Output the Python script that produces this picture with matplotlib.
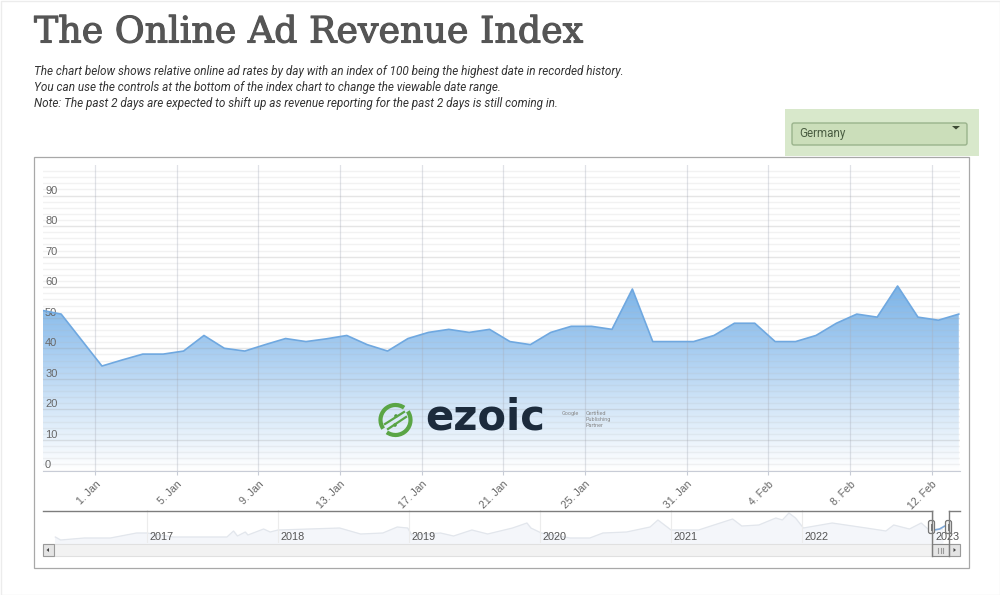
"""
Online ad revenue index for Germany, with the date range navigator below it.
All page furniture is placed in pixels of the 1000x595 figure.
"""

import matplotlib
matplotlib.use("Agg")
import matplotlib.patheffects as pe
import matplotlib.pyplot as plt
from matplotlib.colors import LinearSegmentedColormap
from matplotlib.patches import Arc, Circle, Polygon, Rectangle, FancyBboxPatch
import numpy as np

W, H = 1000, 595

# index values, first three points are the end of December
points = np.arange(-3, 43)
index_values = [52.5, 51.2, 42.7, 34.2, 36.2, 38.1, 38.1, 39.1, 44.2, 40.0, 39.1, 41.2,
                43.2, 42.2, 43.1, 44.2, 41.2, 39.1, 43.2, 45.2, 46.2, 45.2, 46.2, 42.2,
                41.2, 45.2, 47.2, 47.2, 46.2, 59.4, 42.2, 42.2, 42.2, 44.2, 48.2, 48.2,
                42.2, 42.2, 44.2, 48.2, 51.2, 50.2, 60.4, 50.2, 49.2, 51.2]
date_ticks = {"1. Jan": 0, "5. Jan": 4, "9. Jan": 8, "13. Jan": 12, "17. Jan": 16,
              "21. Jan": 20, "25. Jan": 24, "31. Jan": 29, "4. Feb": 33, "8. Feb": 37,
              "12. Feb": 41}

# navigator overview: year position and height above the scrollbar
nav_years = [2016.30, 2016.34, 2016.52, 2016.72, 2016.92, 2017.0, 2017.2, 2017.61, 2017.66,
             2017.69, 2017.75, 2017.77, 2017.89, 2017.94, 2018.0, 2018.47, 2018.63, 2018.8,
             2018.91, 2018.99, 2019.02, 2019.24, 2019.34, 2019.48, 2019.6, 2019.79, 2019.9,
             2019.93, 2020.01, 2020.23, 2020.38, 2020.48, 2020.66, 2020.84, 2020.9, 2021.0,
             2021.21, 2021.47, 2021.54, 2021.67, 2021.8, 2021.85, 2021.9, 2021.95, 2022.01,
             2022.23, 2022.49, 2022.64, 2022.7, 2022.82, 2022.91, 2022.97, 2023.07]
nav_values = [6, 3, 5, 5, 10, 10, 6, 6, 12, 7, 11, 8, 14, 11, 13, 15, 9, 10, 16, 15, 8, 10,
              7, 13, 9, 15, 20, 15, 10, 5, 5, 10, 11, 16, 23, 13, 13, 24, 17, 18, 25, 23,
              30, 25, 15, 20, 15, 12, 18, 14, 20, 13, 14]
year_labels = [2017, 2018, 2019, 2020, 2021, 2022, 2023]


def ax_px(fig, left, top, right, bottom):
    return fig.add_axes([left / W, 1 - bottom / H, (right - left) / W, (bottom - top) / H])


def main():
    plt.rcParams["font.family"] = ["Roboto", "DejaVu Sans"]
    fig = plt.figure(figsize=(W / 100, H / 100), dpi=100, facecolor="white")

    # page layer in pixel coordinates
    page = fig.add_axes([0, 0, 1, 1], zorder=0)
    page.set_xlim(0, W)
    page.set_ylim(H, 0)
    page.axis("off")
    page.add_patch(Rectangle((0.5, 0.5), W - 1, H - 1, fc="white", ec="#ececec", lw=1))
    page.add_patch(Rectangle((785, 109), 194, 47, fc="#d8e8cb", ec="none"))
    page.add_patch(FancyBboxPatch((792, 123), 175, 22, boxstyle="round,pad=0,rounding_size=2",
                                  fc="#cbdeba", ec="#9ab38c", lw=1))
    page.add_patch(Polygon([[952, 126], [960, 126], [956, 129.5]], fc="#3c4a34", ec="none"))
    page.text(799, 134, "Germany", fontsize=8.4, color="#4a5d42", va="center")
    page.add_patch(Rectangle((34, 156.5), 935, 411, fc="white", ec="#a8a8a8", lw=0.9))

    page.text(34, 32.5, "The Online Ad Revenue Index", family="DejaVu Serif", fontsize=26.2,
              color="#555555", va="center",
              path_effects=[pe.withStroke(linewidth=0.8, foreground="#555555")])
    intro = ["The chart below shows relative online ad rates by day with an index of 100 being the highest date in recorded history.",
             "You can use the controls at the bottom of the index chart to change the viewable date range.",
             "Note: The past 2 days are expected to shift up as revenue reporting for the past 2 days is still coming in."]
    for line, y in zip(intro, [71, 87.5, 104]):
        page.text(34, y, line, fontsize=8.5, style="italic", color="#333333", va="center")

    # main chart
    ax = ax_px(fig, 43, 165, 960, 470.5)
    ax.set_zorder(1)
    ax.set_xlim(-2.89, 42.06)
    ax.set_ylim(0, 100)

    # area with vertical gradient, clipped to the series
    cmap = LinearSegmentedColormap.from_list("area", ["#ffffff", "#d3e6f8", "#a2caf0", "#78b2e7"])
    gradient = np.linspace(0, 1, 256).reshape(-1, 1)
    img = ax.imshow(gradient, cmap=cmap, origin="lower", aspect="auto", zorder=1,
                    extent=(-2.89, 42.06, 0, 62))
    x_line = np.array(points, dtype=float)
    area = ax.fill_between(x_line, 0, index_values, color="none", zorder=1)
    img.set_clip_path(area.get_paths()[0], transform=ax.transData)
    ax.set_xlim(-2.89, 42.06)
    ax.set_ylim(0, 100)
    ax.plot(x_line, index_values, color="#6fa8e0", lw=1.2, zorder=3)

    # ticks sit a third of a step left of their points, as on the source chart
    ax.set_xticks([v - 0.33 for v in date_ticks.values()])
    ax.set_xticklabels(list(date_ticks.keys()), rotation=45, ha="right", rotation_mode="anchor",
                       fontsize=7.6, color="#666666", family="Liberation Sans")
    ax.tick_params(axis="x", length=3, color="#c8ccd6", pad=3)
    ax.set_yticks(range(0, 100, 10))
    ax.set_yticks(range(0, 100, 2), minor=True)
    ax.set_yticklabels([str(v) for v in range(0, 100, 10)], fontsize=8, color="#666666",
                       ha="left", va="bottom", family="Liberation Sans")
    ax.tick_params(axis="y", which="both", length=0, pad=-1.5)
    ax.set_axisbelow("line")
    ax.grid(axis="y", which="major", color="#9a9a9a", lw=1, alpha=0.25)
    ax.grid(axis="y", which="minor", color="#b4b4b4", lw=1, alpha=0.16)
    ax.grid(axis="x", which="major", color="#a8aebb", lw=0.9, alpha=0.35)
    for side in ["top", "left", "right"]:
        ax.spines[side].set_visible(False)
    ax.spines["bottom"].set_color("#c8ccd6")

    # navigator
    nav = ax_px(fig, 43, 510, 960, 543)
    nav.set_zorder(1)
    nav.set_xlim(2017 + (43 - 147) / 131, 2017 + (960 - 147) / 131)
    nav.set_ylim(0, 33)
    nav.fill_between(nav_years, 0, nav_values, color="#f4f6fa")
    nav.plot(nav_years, nav_values, color="#e2e6ec", lw=0.9)
    sel = [2023.01, 2023.05, 2023.09, 2023.11]
    nav.plot(sel, [13, 14, 17, 16], color="#7fa8d8", lw=1.2)
    for year in year_labels:
        nav.axvline(year, color="#ececec", lw=0.8)
        nav.text(year + 0.02, 6.5, str(year), fontsize=7.8, color="#555555", va="center",
                 family="Liberation Sans")
    nav.axis("off")

    # frame, scrollbar and handles on top of everything
    top = fig.add_axes([0, 0, 1, 1], zorder=3)
    top.set_xlim(0, W)
    top.set_ylim(H, 0)
    top.axis("off")
    top.patch.set_alpha(0)
    top.plot([43, 932], [510.5, 510.5], color="#7d7d7d", lw=1)
    top.plot([949, 960], [510.5, 510.5], color="#7d7d7d", lw=1)
    top.add_patch(Rectangle((43, 543.5), 917, 12.5, fc="#f2f2f2", ec="#e0e0e0", lw=0.8))
    top.plot([932, 932], [510.5, 556], color="#7d7d7d", lw=1)
    top.plot([948.5, 948.5], [510.5, 556], color="#7d7d7d", lw=1)
    top.add_patch(Rectangle((42.5, 544), 11, 12, fc="#e4e4e4", ec="#9a9a9a", lw=0.8))
    top.add_patch(Polygon([[46.5, 550], [49, 548], [49, 552]], fc="#444444", ec="none"))
    top.add_patch(Rectangle((932, 544), 17, 12, fc="#e6e6e6", ec="#8a8a8a", lw=0.8))
    for x in [938, 940.5, 943]:
        top.plot([x, x], [547.5, 552.5], color="#9a9a9a", lw=0.8)
    top.add_patch(Rectangle((949, 544), 11, 12, fc="#e4e4e4", ec="#9a9a9a", lw=0.8))
    top.add_patch(Polygon([[956, 550], [953.5, 548], [953.5, 552]], fc="#444444", ec="none"))
    for x in [931.5, 948.5]:
        top.add_patch(FancyBboxPatch((x - 3, 520.5), 6, 13, boxstyle="round,pad=0,rounding_size=2",
                                     fc="#f4f4f4", ec="#777777", lw=0.9))
        top.plot([x - 0.9, x - 0.9], [524, 530], color="#777777", lw=0.7)
        top.plot([x + 0.9, x + 0.9], [524, 530], color="#777777", lw=0.7)

    # ezoic logo
    for start, end in [(-35, 125), (145, 305)]:
        top.add_patch(Arc((395.5, 420), 30, 30, theta1=start, theta2=end, color="#5aa545", lw=3))
    top.plot([385, 404], [424, 412], color="#5aa545", lw=1.6)
    top.plot([388, 406], [429, 417], color="#5aa545", lw=1.6)
    top.add_patch(Circle((396, 416), 1.8, fc="#4f9840", ec="none"))
    top.add_patch(Circle((395, 425), 1.8, fc="#4f9840", ec="none"))
    top.text(425, 418, "ezoic", fontsize=30, fontweight="bold", family="DejaVu Sans",
             color="#1c2b3c", va="center")
    for y, c in [(413.5, "#d3e4f6"), (421.5, "#d9e8f7"), (427, "#dcebf8")]:
        top.plot([426, 545], [y, y], color=c, lw=0.8)
    top.text(562, 413.5, "Google", fontsize=4, color="#888888", va="center")
    for line, y in zip(["Certified", "Publishing", "Partner"], [413.5, 419.5, 425.5]):
        top.text(586, y, line, fontsize=4, color="#888888", va="center")

    fig.savefig("out.png", dpi=100)


if __name__ == "__main__":
    main()
